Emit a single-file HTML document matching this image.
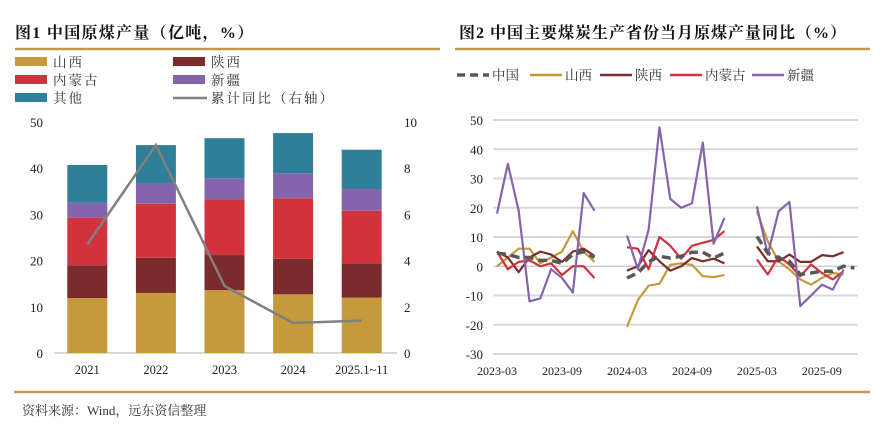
<!DOCTYPE html>
<html><head><meta charset="utf-8"><style>
body{margin:0;background:#fff;width:886px;height:433px;overflow:hidden;font-family:"Liberation Serif","Noto Serif CJK SC",serif}
svg text{font-family:"Liberation Serif","Noto Serif CJK SC",serif}
</style></head><body>
<svg id="s" width="886" height="433" xmlns="http://www.w3.org/2000/svg">
<text x="15" y="38" font-size="16" font-weight="bold" fill="#111" letter-spacing="1.3">图1  中国原煤产量（亿吨，%）</text>
<text x="459" y="38" font-size="16" font-weight="bold" fill="#111" letter-spacing="1">图2  中国主要煤炭生产省份当月原煤产量同比（%）</text>
<line x1="15" y1="49" x2="440" y2="49" stroke="#c09a50" stroke-width="2.5"/>
<line x1="455" y1="49" x2="870" y2="49" stroke="#c09a50" stroke-width="2.5"/>
<line x1="14" y1="392" x2="870" y2="392" stroke="#c09a50" stroke-width="2.5"/>
<text x="22" y="415" font-size="13" fill="#333">资料来源：Wind，远东资信整理</text>
<g id="left"></g>
<g id="right"></g>
</svg>
<script>
// Chart 1 data
const years=["2021","2022","2023","2024","2025.1~11"];
const shanxi=[11.9,13.0,13.6,12.7,12.0];
const shaanxi=[7.1,7.6,7.6,7.7,7.4];
const neimeng=[10.3,11.7,12.1,13.1,11.4];
const xinjiang=[3.2,4.3,4.5,5.4,4.7];
const others=[8.2,8.4,8.7,8.7,8.5];
const cumYoY=[4.7,9.0,2.9,1.3,1.4];
const leftTicks=[0,10,20,30,40,50];
const rightTicks=[0,2,4,6,8,10];

// Chart 2 data
const months=[];
for(let y=2023;y<=2025;y++)for(let m=(y===2023?3:1);m<=12;m++)months.push(y+"-"+String(m).padStart(2,"0"));
const xLabels=["2023-03","2023-09","2024-03","2024-09","2025-03","2025-09"];
const yTicks2=[50,40,30,20,10,0,-10,-20,-30];
const N=null;
const cn=[4.5,4,3,3,2,2,1,4,5,3, N,N, -4,-2.3,1.5,3.4,2.8,3.4,4.8,4.8,2.8,4.5, N,N, 10.2,4.5,2.8,1.7,-2.8,-2.3,-1.7,-1.7,0,-0.6];
const sx=[0,3,6,6,1,3,5,12,5,1.5, N,N, -20.7,-11.6,-6.6,-6,0.5,1,0.5,-3.4,-3.7,-3, N,N, 18.8,8.5,1.7,-1.1,-4.5,-6.3,-4,-2.3,-2.8,N];
const sn=[5,3,-2,3,5,4,1.5,5,6,3.5, N,N, -1.5,0,5.5,1.7,-1.5,0,2.8,1.7,2.6,1, N,N, 6.8,1.7,1.7,4,1.5,1.5,3.8,3.4,4.8,N];
const nm=[5,-1,1.5,2,0,1,-3,0,0,-4, N,N, 6.5,6,-1,10,7,2.6,7,8,9,12, N,N, 2.3,-2.8,3.4,0.6,-3.4,0.6,-2.3,-4.5,-1.7,N];
const xj=[18,35,19,-12,-11,-1,-4,-9,25,19, N,N, 10.5,-1,12.5,47.5,23,20,21.5,42.3,7.7,16.5, N,N, 20.5,4,18.8,22,-13.6,-10,-6.3,-8,-1.1,N];

const NS="http://www.w3.org/2000/svg";
function mk(tag,attrs,parent,txt){const e=document.createElementNS(NS,tag);for(const k in attrs)e.setAttribute(k,attrs[k]);if(txt!=null)e.textContent=txt;parent.appendChild(e);return e;}

const colors={sx:"#c49a3c",sn:"#7b2b2b",nm:"#d2323c",xj:"#8465ad",ot:"#2f7f98",line:"#808080",cn:"#595959"};

// ---- Left chart
const L=document.getElementById("left");
const lx0=54,lx1=397,ly0=353,ly1=122;
const ys=v=>ly0-(v/50)*(ly0-ly1);
const yr=v=>ly0-(v/10)*(ly0-ly1);
const band=(lx1-lx0)/years.length;
const xc=i=>lx0+band*(i+0.5)-1;
leftTicks.forEach(t=>{
  const tl=mk("text",{x:43,y:ys(t)+5,"font-size":13,"text-anchor":"end",fill:"#222"},L,t);
  
  
});
rightTicks.forEach(t=>{
  const tl=mk("text",{x:404,y:yr(t)+5,"font-size":13,fill:"#222"},L,t);
  
  
});
const ax=mk("line",{x1:lx0,y1:ly0,x2:lx1,y2:ly0,stroke:"#d9d9d9","stroke-width":2},L);


const series=[[shanxi,colors.sx,"shanxi"],[shaanxi,colors.sn,"shaanxi"],[neimeng,colors.nm,"inner-mongolia"],[xinjiang,colors.xj,"xinjiang"],[others,colors.ot,"others"]];
years.forEach((y,i)=>{
  let base=0;
  series.forEach(([arr,c,n])=>{
    const top=base+arr[i];
    const r=mk("rect",{x:xc(i)-20,y:ys(top),width:40,height:ys(base)-ys(top),fill:c},L);
    
    
    base=top;
  });
  const tl=mk("text",{x:xc(i),y:374,"font-size":12.5,"text-anchor":"middle",fill:"#222"},L,y);
  
  
});
const lp=mk("polyline",{points:cumYoY.map((v,i)=>xc(i)+","+yr(v)).join(" "),fill:"none",stroke:colors.line,"stroke-width":2.5},L);


// legend
const leg=[[15,62,"rect",colors.sx,"山西"],[173,62,"rect",colors.sn,"陕西"],[15,80,"rect",colors.nm,"内蒙古"],[173,80,"rect",colors.xj,"新疆"],[15,98,"rect",colors.ot,"其他"],[173,98,"line",colors.line,"累计同比（右轴）"]];
leg.forEach(([x,y,t,c,lab])=>{
  const g=mk("g",{},L);
  
  
  if(t==="rect")mk("rect",{x:x,y:y-5,width:32,height:9,fill:c},g);
  else mk("line",{x1:x,y1:y,x2:x+34,y2:y,stroke:c,"stroke-width":2.5},g);
  mk("text",{x:x+38,y:y+5,"font-size":13.5,fill:"#333","letter-spacing":"2"},g,lab);
});

// ---- Right chart
const R=document.getElementById("right");
const rx0=491.6,step=10.83,ry0=120,ry1=354;
const xm=i=>rx0+step*(i+0.5);
const yv=v=>ry0+(50-v)/80*(ry1-ry0);
yTicks2.forEach(t=>{
  const g=mk("line",{x1:493,y1:yv(t),x2:858,y2:yv(t),stroke:t===0?"#d0d0d0":"#d9d9d9","stroke-width":t===0?1.5:2},R);
  
  
  const tl=mk("text",{x:483,y:yv(t)+5,"font-size":13,"text-anchor":"end",fill:"#222"},R,t);
  
  
});
xLabels.forEach(l=>{
  const i=months.indexOf(l);
  const tl=mk("text",{x:xm(i),y:375,"font-size":12,"text-anchor":"middle",fill:"#222"},R,l);
  
  
});
function segs(arr){const out=[];let cur=[];arr.forEach((v,i)=>{if(v==null){if(cur.length)out.push(cur);cur=[];}else cur.push(xm(i)+","+yv(v));});if(cur.length)out.push(cur);return out;}
const lines=[[sx,colors.sx,"shanxi",null],[sn,colors.sn,"shaanxi",null],[nm,colors.nm,"inner-mongolia",null],[xj,colors.xj,"xinjiang",null],[cn,colors.cn,"china","9,5"]];
lines.forEach(([arr,c,n,d])=>{
  segs(arr).forEach(s=>{
    const a={points:s.join(" "),fill:"none",stroke:c,"stroke-width":d?3.5:2.2,"stroke-linejoin":"round"};
    if(d)a["stroke-dasharray"]=d;
    const p=mk("polyline",a,R);
    
    
  });
});
const leg2=[[457,colors.cn,"中国",1],[530,colors.sx,"山西"],[600,colors.sn,"陕西"],[670,colors.nm,"内蒙古"],[752,colors.xj,"新疆"]];
leg2.forEach(([x,c,lab,d])=>{
  const g=mk("g",{},R);
  
  
  const a={x1:x,y1:75,x2:x+32,y2:75,stroke:c,"stroke-width":d?3.5:2.5};
  if(d)a["stroke-dasharray"]="8,5";
  mk("line",a,g);
  mk("text",{x:x+35,y:80,"font-size":13.5,fill:"#333"},g,lab);
});
</script>
</body></html>
